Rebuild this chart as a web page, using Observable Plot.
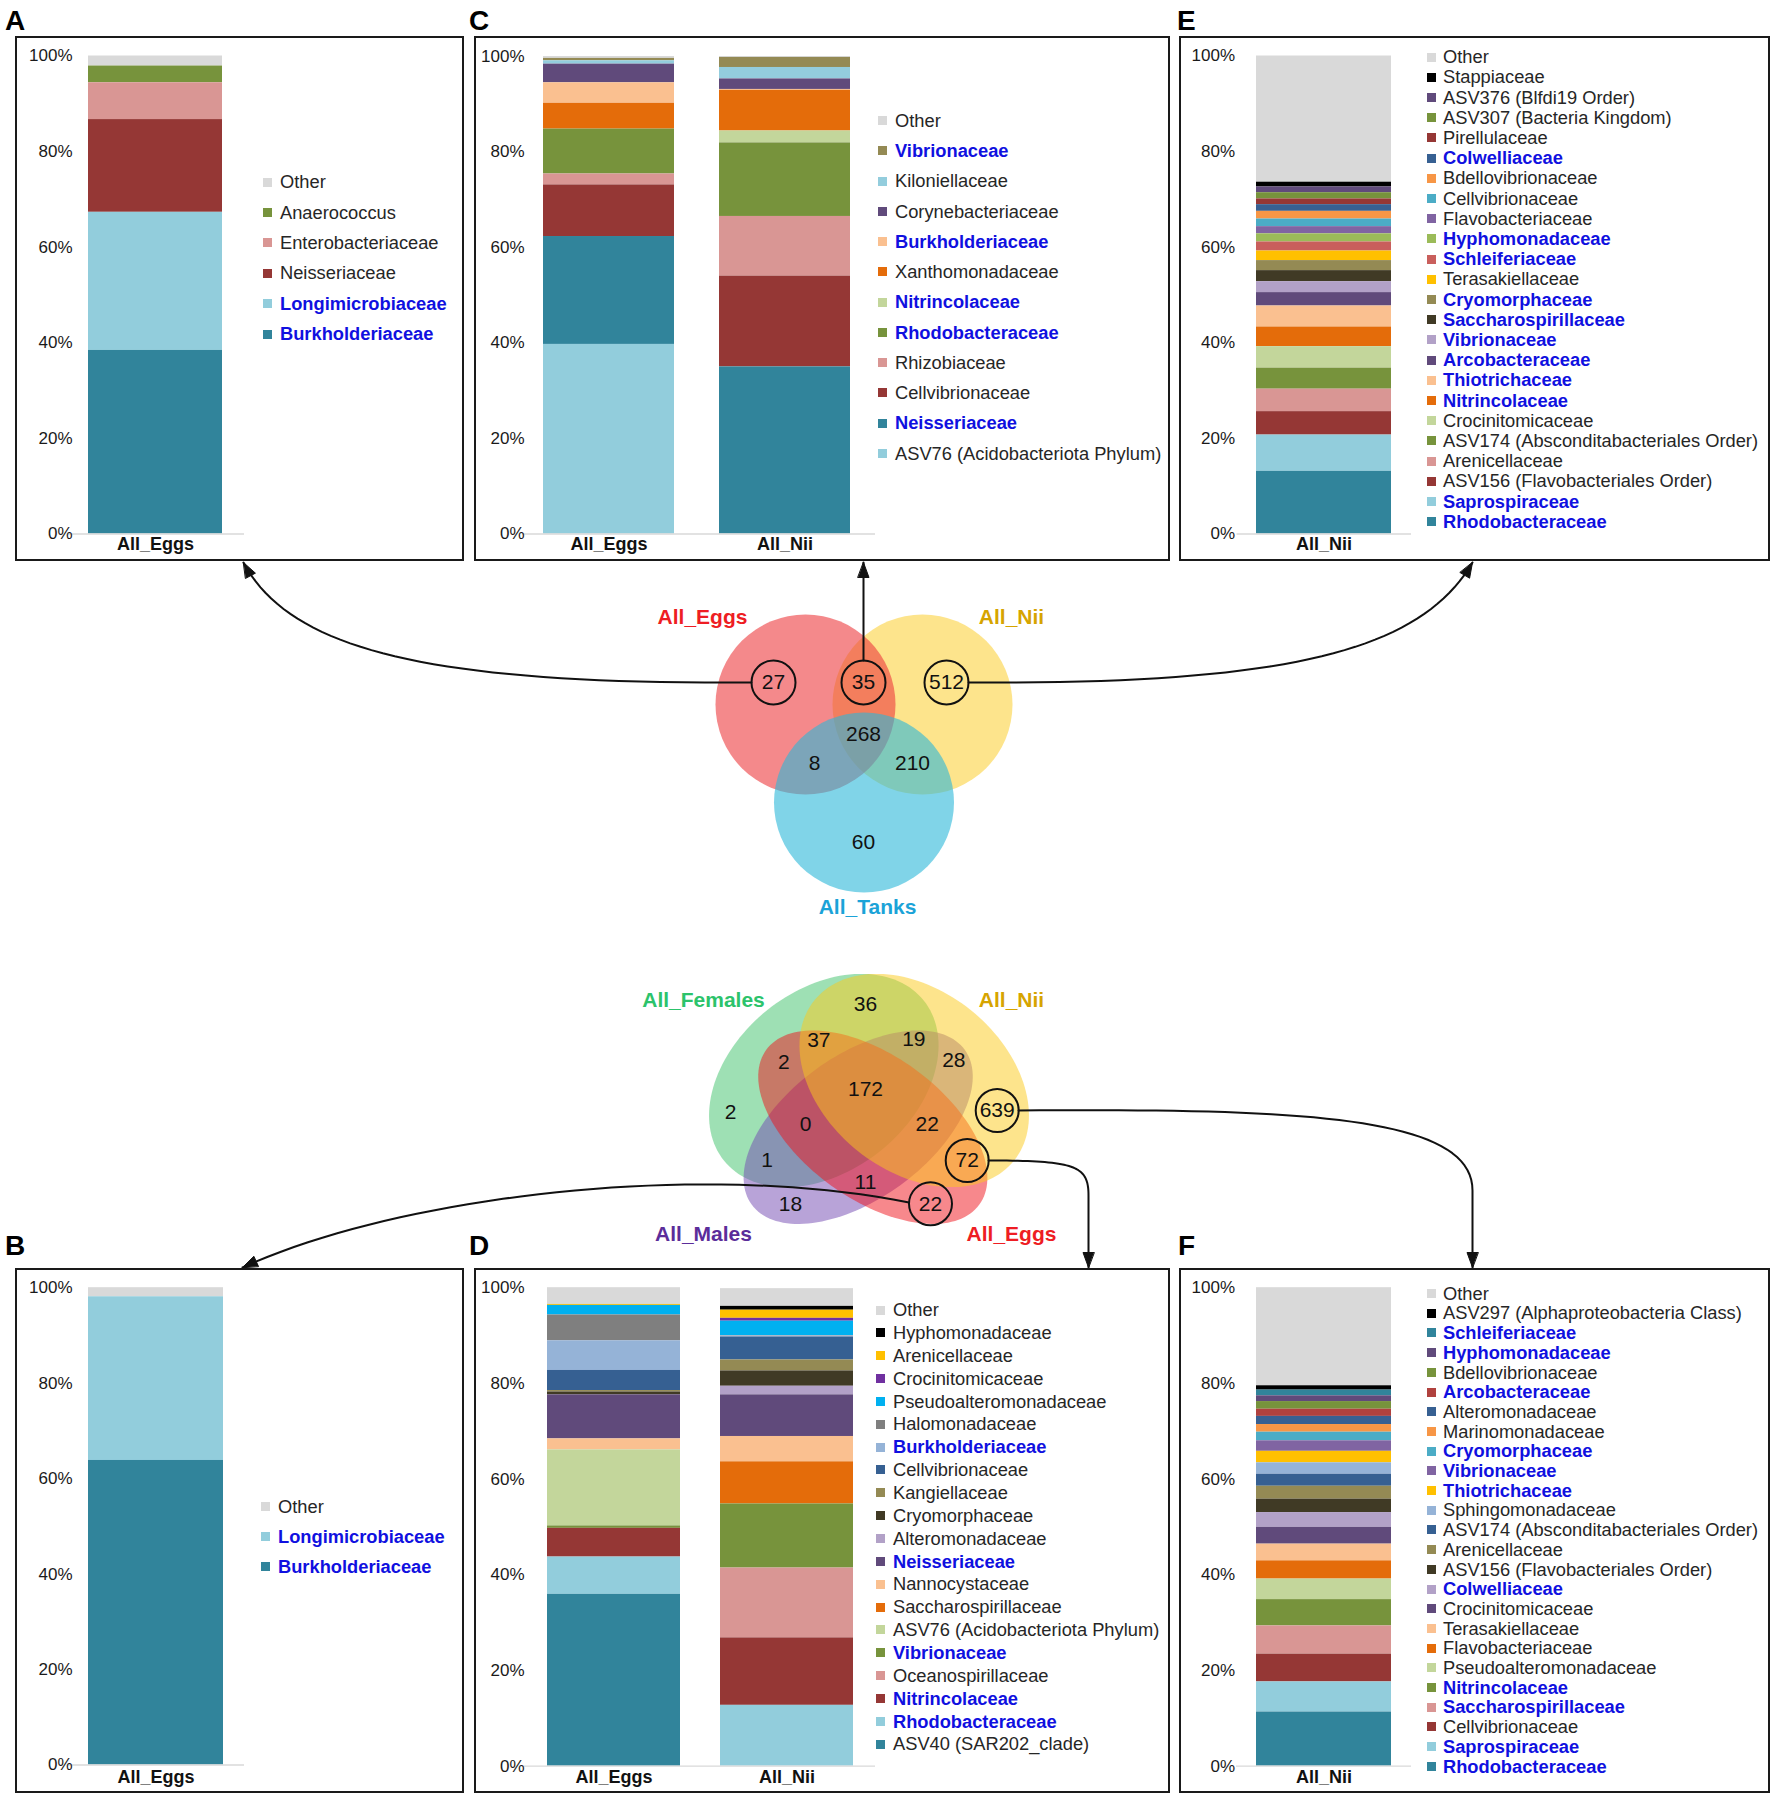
<!DOCTYPE html>
<html><head><meta charset="utf-8">
<script src="https://cdn.jsdelivr.net/npm/d3@7"></script>
<script src="https://cdn.jsdelivr.net/npm/@observablehq/plot@0.6"></script>
<style>
body{margin:0;background:#fff;}
#page{position:relative;width:1775px;height:1796px;overflow:hidden;font-family:"Liberation Sans",Arial,Helvetica,sans-serif;background:#fff;}
.holder{position:absolute;}
.holder svg{display:block;max-width:none;}
.frame{position:absolute;border:2.5px solid #1a1a1a;box-sizing:border-box;}
.letter{position:absolute;font-weight:bold;font-size:28px;line-height:28px;color:#000;}
.lg-sw{position:absolute;width:9px;height:9px;}
.lg-tx{position:absolute;font-size:18.3px;line-height:18px;color:#262626;white-space:nowrap;}
.lg-tx.hl{color:#1010e0;font-weight:bold;}
</style></head><body><div id="page"></div>
<script>
// ===================== DATA =====================
// Panel A : taxa of the 27 ASVs unique to All_Eggs (Venn 1)
const aSamples = ["All_Eggs"];
const aTaxa = ["Other","Anaerococcus","Enterobacteriaceae","Neisseriaceae","Longimicrobiaceae","Burkholderiaceae"];
const aEggs = [2.1, 3.5, 7.7, 19.4, 28.9, 38.4];
const aHighlight = ["Longimicrobiaceae","Burkholderiaceae"];
const aColors = ["#d9d9d9","#77933c","#d99694","#953735","#92cddc","#31849b"];

// Panel B : 22 ASVs unique to All_Eggs (Venn 2)
const bSamples = ["All_Eggs"];
const bTaxa = ["Other","Longimicrobiaceae","Burkholderiaceae"];
const bEggs = [1.9, 34.3, 63.8];
const bHighlight = ["Longimicrobiaceae","Burkholderiaceae"];
const bColors = ["#d9d9d9","#92cddc","#31849b"];

// Panel C : 35 ASVs shared by All_Eggs and All_Nii (Venn 1)
const cSamples = ["All_Eggs","All_Nii"];
const cTaxa = ["Other","Vibrionaceae","Kiloniellaceae","Corynebacteriaceae","Burkholderiaceae","Xanthomonadaceae","Nitrincolaceae","Rhodobacteraceae","Rhizobiaceae","Cellvibrionaceae","Neisseriaceae","ASV76 (Acidobacteriota Phylum)"];
const cEggs = [0.4, 0.5, 0.7, 3.9, 4.3, 5.4, 0, 9.4, 2.3, 10.8, 22.6, 39.7];
const cNii  = [0.2, 2.1, 2.4, 2.2, 0.2, 8.5, 2.5, 15.4, 12.5, 19.0, 35.0, 0];
const cHighlight = ["Vibrionaceae","Burkholderiaceae","Nitrincolaceae","Rhodobacteraceae","Neisseriaceae"];
const cColors = ["#d9d9d9","#948a54","#93cddd","#604a7b","#fac090","#e46c0a","#c3d69b","#77933c","#d99694","#953735","#31849b","#92cddc"];

// Panel D : 72 ASVs shared by All_Eggs and All_Nii (Venn 2)
const dSamples = ["All_Eggs","All_Nii"];
const dTaxa = ["Other","Hyphomonadaceae","Arenicellaceae","Crocinitomicaceae","Pseudoalteromonadaceae","Halomonadaceae","Burkholderiaceae","Cellvibrionaceae","Kangiellaceae","Cryomorphaceae","Alteromonadaceae","Neisseriaceae","Nannocystaceae","Saccharospirillaceae","ASV76 (Acidobacteriota Phylum)","Vibrionaceae","Oceanospirillaceae","Nitrincolaceae","Rhodobacteraceae","ASV40 (SAR202_clade)"];
const dEggs = [3.5, 0, 0.2, 0, 2.0, 5.4, 6.2, 4.2, 0.3, 0.6, 0, 9.2, 2.3, 0, 15.9, 0.5, 0, 6.0, 7.8, 35.9];
const dNii  = [3.7, 0.8, 1.7, 0.6, 3.0, 0.1, 0.2, 4.8, 2.3, 3.2, 1.8, 8.7, 5.3, 8.8, 0, 13.4, 14.6, 14.1, 12.7, 0];
const dHighlight = ["Burkholderiaceae","Neisseriaceae","Vibrionaceae","Nitrincolaceae","Rhodobacteraceae"];
const dColors = ["#d9d9d9","#000000","#ffc000","#7030a0","#00b0f0","#7f7f7f","#95b3d7","#366092","#948a54","#403a25","#b2a1c7","#604a7b","#fac090","#e46c0a","#c3d69b","#77933c","#d99694","#953735","#92cddc","#31849b"];

// Panel E : 512 ASVs unique to All_Nii (Venn 1)
const eSamples = ["All_Nii"];
const eTaxa = ["Other","Stappiaceae","ASV376 (Blfdi19 Order)","ASV307 (Bacteria Kingdom)","Pirellulaceae","Colwelliaceae","Bdellovibrionaceae","Cellvibrionaceae","Flavobacteriaceae","Hyphomonadaceae","Schleiferiaceae","Terasakiellaceae","Cryomorphaceae","Saccharospirillaceae","Vibrionaceae","Arcobacteraceae","Thiotrichaceae","Nitrincolaceae","Crocinitomicaceae","ASV174 (Absconditabacteriales Order)","Arenicellaceae","ASV156 (Flavobacteriales Order)","Saprospiraceae","Rhodobacteraceae"];
const eNii = [26.4, 1.0, 1.2, 1.3, 1.2, 1.4, 1.6, 1.6, 1.5, 1.7, 1.9, 2.0, 2.1, 2.3, 2.3, 2.8, 4.4, 4.1, 4.5, 4.4, 4.7, 4.9, 7.6, 13.1];
const eHighlight = ["Colwelliaceae","Hyphomonadaceae","Schleiferiaceae","Cryomorphaceae","Saccharospirillaceae","Vibrionaceae","Arcobacteraceae","Thiotrichaceae","Nitrincolaceae","Saprospiraceae","Rhodobacteraceae"];
const eColors = ["#d9d9d9","#000000","#604a7b","#77933c","#953735","#376092","#f79646","#4bacc6","#8064a2","#9bbb59","#c95f5c","#ffc000","#948a54","#403a25","#b2a1c7","#604a7b","#fac090","#e46c0a","#c3d69b","#77933c","#d99694","#953735","#92cddc","#31849b"];

// Panel F : 639 ASVs unique to All_Nii (Venn 2)
const fSamples = ["All_Nii"];
const fTaxa = ["Other","ASV297 (Alphaproteobacteria Class)","Schleiferiaceae","Hyphomonadaceae","Bdellovibrionaceae","Arcobacteraceae","Alteromonadaceae","Marinomonadaceae","Cryomorphaceae","Vibrionaceae","Thiotrichaceae","Sphingomonadaceae","ASV174 (Absconditabacteriales Order)","Arenicellaceae","ASV156 (Flavobacteriales Order)","Colwelliaceae","Crocinitomicaceae","Terasakiellaceae","Flavobacteriaceae","Pseudoalteromonadaceae","Nitrincolaceae","Saccharospirillaceae","Cellvibrionaceae","Saprospiraceae","Rhodobacteraceae"];
const fNii = [20.5, 0.9, 1.2, 1.2, 1.6, 1.5, 1.7, 1.6, 1.8, 2.2, 2.4, 2.4, 2.5, 2.7, 2.8, 3.1, 3.5, 3.5, 3.8, 4.3, 5.5, 5.9, 5.8, 6.3, 11.3];
const fHighlight = ["Schleiferiaceae","Hyphomonadaceae","Arcobacteraceae","Cryomorphaceae","Vibrionaceae","Thiotrichaceae","Colwelliaceae","Nitrincolaceae","Saccharospirillaceae","Saprospiraceae","Rhodobacteraceae"];
const fColors = ["#d9d9d9","#000000","#31849b","#604a7b","#77933c","#b0413e","#376092","#f79646","#4bacc6","#8064a2","#ffc000","#95b3d7","#366092","#948a54","#403a25","#b2a1c7","#604a7b","#fac090","#e46c0a","#c3d69b","#77933c","#d99694","#953735","#92cddc","#31849b"];

// Venn 1 (All_Eggs / All_Nii / All_Tanks)
const venn1Sets = ["All_Eggs","All_Nii","All_Tanks"];
const venn1Regions = ["Eggs","Eggs+Nii","Nii","Eggs+Nii+Tanks","Eggs+Tanks","Nii+Tanks","Tanks"];
const venn1Counts = [27, 35, 512, 268, 8, 210, 60];
const venn1Circled = ["Eggs","Eggs+Nii","Nii"];

// Venn 2 (All_Females / All_Nii / All_Males / All_Eggs)
const venn2Sets = ["All_Females","All_Nii","All_Males","All_Eggs"];
const venn2Regions = ["F+N","F+N+E","F+N+M","F+E","N+M","F+N+M+E","F","N","F+M+E","N+M+E","F+M","N+E","M+E","M","E"];
const venn2Counts = [36, 37, 19, 2, 28, 172, 2, 639, 0, 22, 1, 72, 11, 18, 22];
const venn2Circled = ["N","N+E","E"];

// ===================== LAYOUT / STYLE =====================
const FONT = "Liberation Sans, Arial, Helvetica, sans-serif";
const page = document.getElementById("page");

const panels = {
  A: {svgL:20, svgR:250, svgT:40, svgB:558, axisL:68, axisR:244, y100:55.5, y0:533.5, tickR:72, bars:[[87.7,222]], labDy:10.5, lgSwX:263, lgTxX:280, lgY0:182, lgDy:30.4, frame:[16,37.5,463,560], letter:[5,31]},
  C: {svgL:478, svgR:880, svgT:40, svgB:558, axisL:522, axisR:875, y100:56, y0:533.5, tickR:524, bars:[[542.6,674],[719.4,850.7]], labDy:10.5, lgSwX:878, lgTxX:895, lgY0:120.7, lgDy:30.25, frame:[475,37.5,1169,560], letter:[469,31]},
  E: {svgL:1184, svgR:1416, svgT:40, svgB:558, axisL:1236.5, axisR:1411, y100:55.5, y0:533.5, tickR:1234.5, bars:[[1256,1391]], labDy:10.5, lgSwX:1427, lgTxX:1443, lgY0:57, lgDy:20.2, frame:[1180,37.5,1769,560], letter:[1177,31]},
  B: {svgL:20, svgR:250, svgT:1272, svgB:1789, axisL:68, axisR:244, y100:1287.2, y0:1764.5, tickR:72, bars:[[87.7,223.3]], labDy:12, lgSwX:261, lgTxX:278, lgY0:1506.5, lgDy:30, frame:[16,1269,463,1792], letter:[5,1256]},
  D: {svgL:478, svgR:880, svgT:1272, svgB:1789, axisL:522, axisR:875, y100:1287.2, y0:1765.6, tickR:524, bars:[[546,679],[719.4,853]], labDy:11, lgSwX:876, lgTxX:893, lgY0:1310, lgDy:22.85, frame:[475,1269,1169,1792], letter:[469,1256]},
  F: {svgL:1184, svgR:1416, svgT:1272, svgB:1789, axisL:1236, axisR:1411, y100:1287.2, y0:1765.6, tickR:1234.5, bars:[[1256,1391]], labDy:11, lgSwX:1427, lgTxX:1443, lgY0:1293.5, lgDy:19.7, frame:[1180,1269,1769,1792], letter:[1178,1256]}
};

// Venn geometry
const venn1Circles = {All_Nii:[922,704,"#fcd23f"], All_Eggs:[805,704,"#ed3a3e"], All_Tanks:[863.5,802,"#2bb7d9"]};
const venn1DrawOrder = ["All_Nii","All_Eggs","All_Tanks"];
const venn1LabelPos = {All_Eggs:[702,617,"#ee1d23"], All_Nii:[1011,617,"#d6a400"], All_Tanks:[867,907,"#1ba3d8"]};
const venn1RegionPos = {"Eggs":[773,682], "Eggs+Nii":[863,682], "Nii":[946,682], "Eggs+Nii+Tanks":[863,734], "Eggs+Tanks":[814,763], "Nii+Tanks":[912,763], "Tanks":[863,842]};

// [cx, cy, semi-major, semi-minor, rotation (deg, screen), colour]
const venn2Ellipses = {
  All_Females:[823.3,1080,128,90.3,-38.7,"#3dc169"],
  All_Males:[857.7,1126.7,131.7,71.7,-36,"#7147b1"],
  All_Eggs:[872.3,1126.7,131.7,71.7,36,"#ef1119"],
  All_Nii:[913.7,1080,128,90.3,38.7,"#fbc919"]
};
const venn2DrawOrder = ["All_Females","All_Males","All_Eggs","All_Nii"];
const venn2LabelPos = {All_Females:[703,1000,"#2cc36b"], All_Nii:[1011,1000,"#d6a400"], All_Males:[703,1234,"#5b2d9a"], All_Eggs:[1011,1234,"#ee1d23"]};
const venn2RegionPos = {"F+N":[865,1003.3],"F+N+E":[818.3,1040],"F+N+M":[913.3,1038.3],"F+E":[783.3,1061.7],"N+M":[953.3,1060],"F+N+M+E":[865,1088.3],"F":[730,1111.7],"N":[996.7,1110],"F+M+E":[805,1123.3],"N+M+E":[926.7,1123.3],"F+M":[766.7,1160],"N+E":[966.7,1160],"M+E":[865,1181.7],"M":[790,1203.3],"E":[930,1203.3]};

// connector arrows (cubic segments)
const arrowPaths = [
  [[[751,682],[430,684],[290,650],[243,562]]],
  [[[863,660],[863,630],[863,595],[863,562]]],
  [[[968,682],[1290,684],[1420,650],[1472,562]]],
  [[[908.5,1202],[700,1160],[400,1195],[242,1267]]],
  [[[988,1160],[1075,1160],[1088,1165],[1088,1195]],[[1088,1195],[1088,1220],[1088,1245],[1088,1267]]],
  [[[1018,1110],[1300,1108],[1472,1115],[1472,1190]],[[1472,1190],[1472,1220],[1472,1245],[1472,1267]]]
];

// ===================== HELPERS =====================
function ellipsePoints(set, p) {
  const [cx, cy, a, b, ang] = p, th = ang * Math.PI / 180, pts = [];
  for (let i = 0; i < 144; i++) {
    const t = i / 144 * 2 * Math.PI;
    pts.push({set, x: cx + a*Math.cos(th)*Math.cos(t) - b*Math.sin(th)*Math.sin(t),
                   y: cy + a*Math.sin(th)*Math.cos(t) + b*Math.cos(th)*Math.sin(t)});
  }
  return pts;
}
function bezierPoints(segs, id) {
  const pts = [];
  segs.forEach(([p0,p1,p2,p3]) => {
    for (let i = 0; i <= 40; i++) {
      const t = i/40, u = 1-t;
      pts.push({id, x: u*u*u*p0[0] + 3*u*u*t*p1[0] + 3*u*t*t*p2[0] + t*t*t*p3[0],
                    y: u*u*u*p0[1] + 3*u*u*t*p1[1] + 3*u*t*t*p2[1] + t*t*t*p3[1]});
    }
  });
  return pts;
}
function headPoints(segs, id) {
  const s = segs[segs.length-1], T = s[3], P = s[2];
  let dx = T[0]-P[0], dy = T[1]-P[1]; const n = Math.hypot(dx,dy); dx/=n; dy/=n;
  const L = 15, w = 5.5, bx = T[0]-L*dx, by = T[1]-L*dy;
  return [{id,x:T[0],y:T[1]},{id,x:bx - w*dy,y:by + w*dx},{id,x:bx + w*dy,y:by - w*dx}];
}

// ===================== OVERLAY (Venns + arrows) =====================
{
  const marks = [];
  venn1DrawOrder.forEach(s => {
    const [x, y, c] = venn1Circles[s];
    marks.push(Plot.dot([s], {x: () => x, y: () => y, r: 90, fill: c, fillOpacity: 0.6, stroke: "none"}));
  });
  venn2DrawOrder.forEach(s => {
    const p = venn2Ellipses[s];
    marks.push(Plot.line(ellipsePoints(s, p), {x: "x", y: "y", curve: "linear-closed", fill: p[5], fillOpacity: 0.5, stroke: "none"}));
  });
  const linePts = [], heads = [];
  arrowPaths.forEach((segs, i) => { linePts.push(...bezierPoints(segs, i)); heads.push(...headPoints(segs, i)); });
  marks.push(Plot.line(linePts, {x: "x", y: "y", z: "id", stroke: "#111", strokeWidth: 2, fill: "none"}));
  marks.push(Plot.line(heads, {x: "x", y: "y", z: "id", curve: "linear-closed", fill: "#111", stroke: "#111", strokeWidth: 1}));

  const v1 = venn1Regions.map((r, i) => ({r, n: venn1Counts[i], x: venn1RegionPos[r][0], y: venn1RegionPos[r][1], c: venn1Circled.includes(r)}));
  const v2 = venn2Regions.map((r, i) => ({r, n: venn2Counts[i], x: venn2RegionPos[r][0], y: venn2RegionPos[r][1], c: venn2Circled.includes(r)}));
  marks.push(Plot.dot(v1.filter(d => d.c), {x: "x", y: "y", r: 22, stroke: "#111", strokeWidth: 2, fill: "none"}));
  marks.push(Plot.dot(v2.filter(d => d.c), {x: "x", y: "y", r: 21.5, stroke: "#111", strokeWidth: 2, fill: "none"}));
  marks.push(Plot.text([...v1, ...v2], {x: "x", y: "y", text: d => String(d.n), fontSize: 21, fontWeight: d => d.c ? "bold" : "normal", fill: "#111", textAnchor: "middle", lineAnchor: "middle"}));
  const labs = [...venn1Sets.map(s => ({s, p: venn1LabelPos[s]})), ...venn2Sets.map(s => ({s, p: venn2LabelPos[s]}))];
  labs.forEach(({s, p}) => marks.push(Plot.text([s], {x: () => p[0], y: () => p[1], text: d => d, fontSize: 21, fontWeight: "bold", fill: p[2], textAnchor: "middle", lineAnchor: "middle"})));

  const ov = Plot.plot({
    width: 1775, height: 1796, margin: 0,
    x: {domain: [0, 1775], range: [0, 1775], axis: null},
    y: {domain: [0, 1796], range: [0, 1796], axis: null},
    style: {background: "transparent", fontFamily: FONT},
    marks
  });
  const h = document.createElement("div");
  h.className = "holder"; h.style.left = "0px"; h.style.top = "0px"; h.style.width = "1775px";
  h.appendChild(ov); page.appendChild(h);
}

// ===================== BAR PANELS =====================
function drawPanel(letter, samples, taxa, colors, highlight, series) {
  const cfg = panels[letter];
  const [fx1, fy1, fx2, fy2] = cfg.frame;
  const fr = document.createElement("div");
  fr.className = "frame";
  fr.style.left = (fx1 - 1.25) + "px"; fr.style.top = (fy1 - 1.25) + "px";
  fr.style.width = (fx2 - fx1 + 2.5) + "px"; fr.style.height = (fy2 - fy1 + 2.5) + "px";
  page.appendChild(fr);
  const lt = document.createElement("div");
  lt.className = "letter"; lt.textContent = letter;
  lt.style.left = cfg.letter[0] + "px"; lt.style.top = (cfg.letter[1] - 23.7) + "px";
  page.appendChild(lt);

  const rows = [];
  samples.forEach((s, i) => taxa.forEach((t, j) => rows.push({sample: s, taxon: t, value: series[i][j]})));
  const W = cfg.svgR - cfg.svgL, H = cfg.svgB - cfg.svgT;
  const bars = cfg.bars;
  const r0 = bars[0][0] - cfg.svgL, r1 = bars[bars.length - 1][1] - cfg.svgL;
  let pin = 0;
  if (bars.length > 1) { const bw = bars[0][1] - bars[0][0], gap = bars[1][0] - bars[0][1]; pin = gap / (bw + gap); }
  const ticks = [0, 20, 40, 60, 80, 100];
  const svg = Plot.plot({
    width: W, height: H,
    marginLeft: cfg.axisL - cfg.svgL, marginRight: cfg.svgR - cfg.axisR,
    marginTop: cfg.y100 - cfg.svgT, marginBottom: cfg.svgB - cfg.y0,
    style: {background: "transparent", fontFamily: FONT, overflow: "visible"},
    x: {type: "band", domain: samples, range: [r0, r1], paddingInner: pin, paddingOuter: 0, align: 0.5, axis: null},
    y: {domain: [0, 100], axis: null},
    color: {domain: taxa, range: colors},
    marks: [
      Plot.barY(rows, {x: "sample", y: "value", fill: "taxon", order: taxa.slice().reverse()}),
      Plot.ruleY([0], {stroke: "#d9d9d9", strokeWidth: 1.3}),
      Plot.text(ticks, {y: d => d, text: d => d + "%", frameAnchor: "left", textAnchor: "end", dx: cfg.tickR - cfg.axisL, fontSize: 17, fill: "#1a1a1a"}),
      Plot.text(samples, {x: d => d, text: d => d, frameAnchor: "bottom", lineAnchor: "middle", dy: cfg.labDy, fontSize: 18, fontWeight: "bold", fill: "#111"})
    ]
  });
  const h = document.createElement("div");
  h.className = "holder"; h.style.left = cfg.svgL + "px"; h.style.top = cfg.svgT + "px"; h.style.width = W + "px";
  h.appendChild(svg); page.appendChild(h);

  taxa.forEach((t, i) => {
    const y = cfg.lgY0 + i * cfg.lgDy;
    const sw = document.createElement("div");
    sw.className = "lg-sw";
    sw.style.left = cfg.lgSwX + "px"; sw.style.top = (y - 4.5) + "px"; sw.style.background = colors[i];
    page.appendChild(sw);
    const tx = document.createElement("div");
    tx.className = "lg-tx" + (highlight.includes(t) ? " hl" : "");
    tx.textContent = t;
    tx.style.left = cfg.lgTxX + "px"; tx.style.top = (y - 8.8) + "px";
    page.appendChild(tx);
  });
}

drawPanel("A", aSamples, aTaxa, aColors, aHighlight, [aEggs]);
drawPanel("C", cSamples, cTaxa, cColors, cHighlight, [cEggs, cNii]);
drawPanel("E", eSamples, eTaxa, eColors, eHighlight, [eNii]);
drawPanel("B", bSamples, bTaxa, bColors, bHighlight, [bEggs]);
drawPanel("D", dSamples, dTaxa, dColors, dHighlight, [dEggs, dNii]);
drawPanel("F", fSamples, fTaxa, fColors, fHighlight, [fNii]);
</script></body></html>
